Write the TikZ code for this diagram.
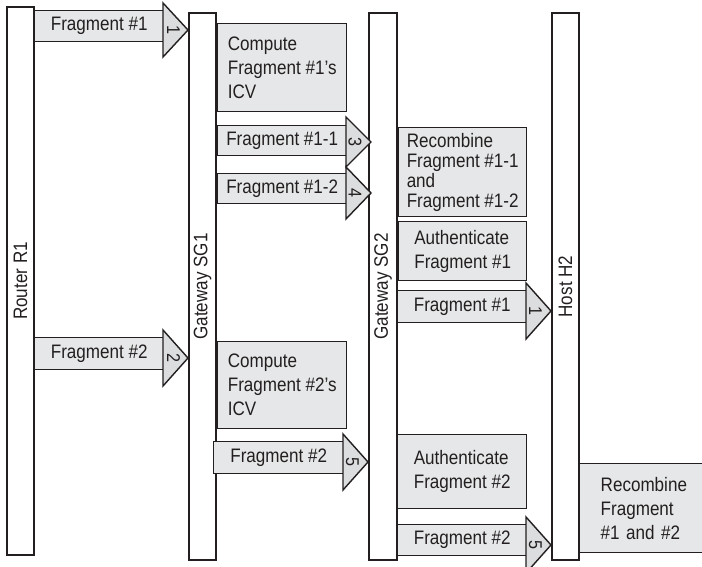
\documentclass[tikz,border=0pt]{standalone}
\usepackage{fontspec}
\setmainfont{Liberation Sans}[FakeStretch=0.875]
\definecolor{ink}{HTML}{231F20}
\definecolor{boxgray}{HTML}{E6E7E8}
\definecolor{headgray}{HTML}{DCDDDE}
\newcommand\txtfont{\fontsize{19.5bp}{24bp}\selectfont}
\newcommand\tightfont{\fontsize{19.5bp}{20bp}\selectfont}
\newcommand\numfont{\fontsize{18.5bp}{20bp}\selectfont}
\tikzset{
  outl/.style={draw=ink, line width=1.4bp},
  lifeline/.style={outl, fill=white, rectangle, inner sep=0pt, rotate=90,
    minimum height=27bp, font=\txtfont, text=ink},
  procbox/.style={outl, fill=boxgray, rectangle, inner sep=0pt, align=left,
    anchor=north west, font=\txtfont, text=ink},
  abody/.style={outl, fill=boxgray, rectangle, inner sep=0pt,
    anchor=north west, minimum width=129bp, font=\txtfont, text=ink},
  ahead/.style={outl, fill=headgray, line join=miter},
  num/.style={inner sep=0pt, rotate=-90, font=\numfont, text=ink},
}
\begin{document}
\begin{tikzpicture}[x=1bp, y=-1bp]
  \useasboundingbox (0,0) rectangle (702,567);

  % lifelines
  \node[lifeline, minimum width=548bp] (r1)  at (20.5,281)   {Router R1};
  \node[lifeline, minimum width=547bp] (sg1) at (202.5,286.5) {Gateway SG1};
  \node[lifeline, minimum width=547bp, minimum height=28bp] (sg2) at (383,286.5) {Gateway SG2};
  \node[lifeline, minimum width=547bp] (h2)  at (565.5,286.5) {Host H2};

  % fragment #1 from R1 to SG1
  \node[abody, minimum height=31bp] (a1) at (34,10) {Fragment \#1};
  \draw[ahead] (163,3) -- (188,30) -- (163,57) -- cycle;
  \node[num] (n1) at (173.5,30) {1};

  % SG1 work on fragment #1
  \node[procbox, minimum width=129bp, minimum height=88bp] (c1) at (217,23)
    {Compute\\Fragment \#1’s\\ICV};

  \node[abody, minimum height=30bp] (a11) at (217,125) {Fragment \#1-1};
  \draw[ahead] (346,117) -- (371,142) -- (346,167) -- cycle;
  \node[num] (n3) at (355,142) {3};

  \node[abody, minimum height=30bp] (a12) at (217,173) {Fragment \#1-2};
  \draw[ahead] (346,167) -- (371,193) -- (346,219) -- cycle;
  \node[num] (n4) at (355,193) {4};

  % SG2 work on fragment #1
  \node[procbox, font=\tightfont, minimum width=128bp, minimum height=89bp] (rec1) at (398,127)
    {Recombine\\Fragment \#1-1\\and\\Fragment \#1-2};
  \node[procbox, minimum width=128bp, minimum height=59bp] (auth1) at (398,221)
    {Authenticate\\Fragment \#1};

  \node[abody, minimum height=32bp] (a3) at (397,290) {Fragment \#1};
  \draw[ahead] (526,283) -- (551,311) -- (526,339) -- cycle;
  \node[num] (n1b) at (535.5,311) {1};

  % fragment #2 from R1 to SG1
  \node[abody, minimum height=32bp] (a2) at (34,337) {Fragment \#2};
  \draw[ahead] (163,330) -- (188,358) -- (163,386) -- cycle;
  \node[num] (n2) at (173.5,358) {2};

  \node[procbox, minimum width=129bp, minimum height=87bp] (c2) at (217,341)
    {Compute\\Fragment \#2’s\\ICV};

  \node[abody, minimum width=130bp, minimum height=32bp] (a4) at (213,441) {Fragment \#2};
  \draw[ahead] (343,434) -- (368,462) -- (343,490) -- cycle;
  \node[num] (n5) at (352.5,462) {5};

  % SG2 work on fragment #2
  \node[procbox, minimum width=129bp, minimum height=74bp] (auth2) at (397,434)
    {Authenticate\\Fragment \#2};

  \node[abody, minimum height=31bp] (a5) at (397,524) {Fragment \#2};
  \draw[ahead] (526,517) -- (551,545) -- (526,573) -- cycle;
  \node[num] (n5b) at (535.5,545) {5};

  % final reassembly at the host
  \node[procbox, text width=100bp, inner xsep=21bp, minimum height=89bp] (rec2) at (579,463)
    {Recombine\\Fragment\\\#1 and \#2};
\end{tikzpicture}
\end{document}
